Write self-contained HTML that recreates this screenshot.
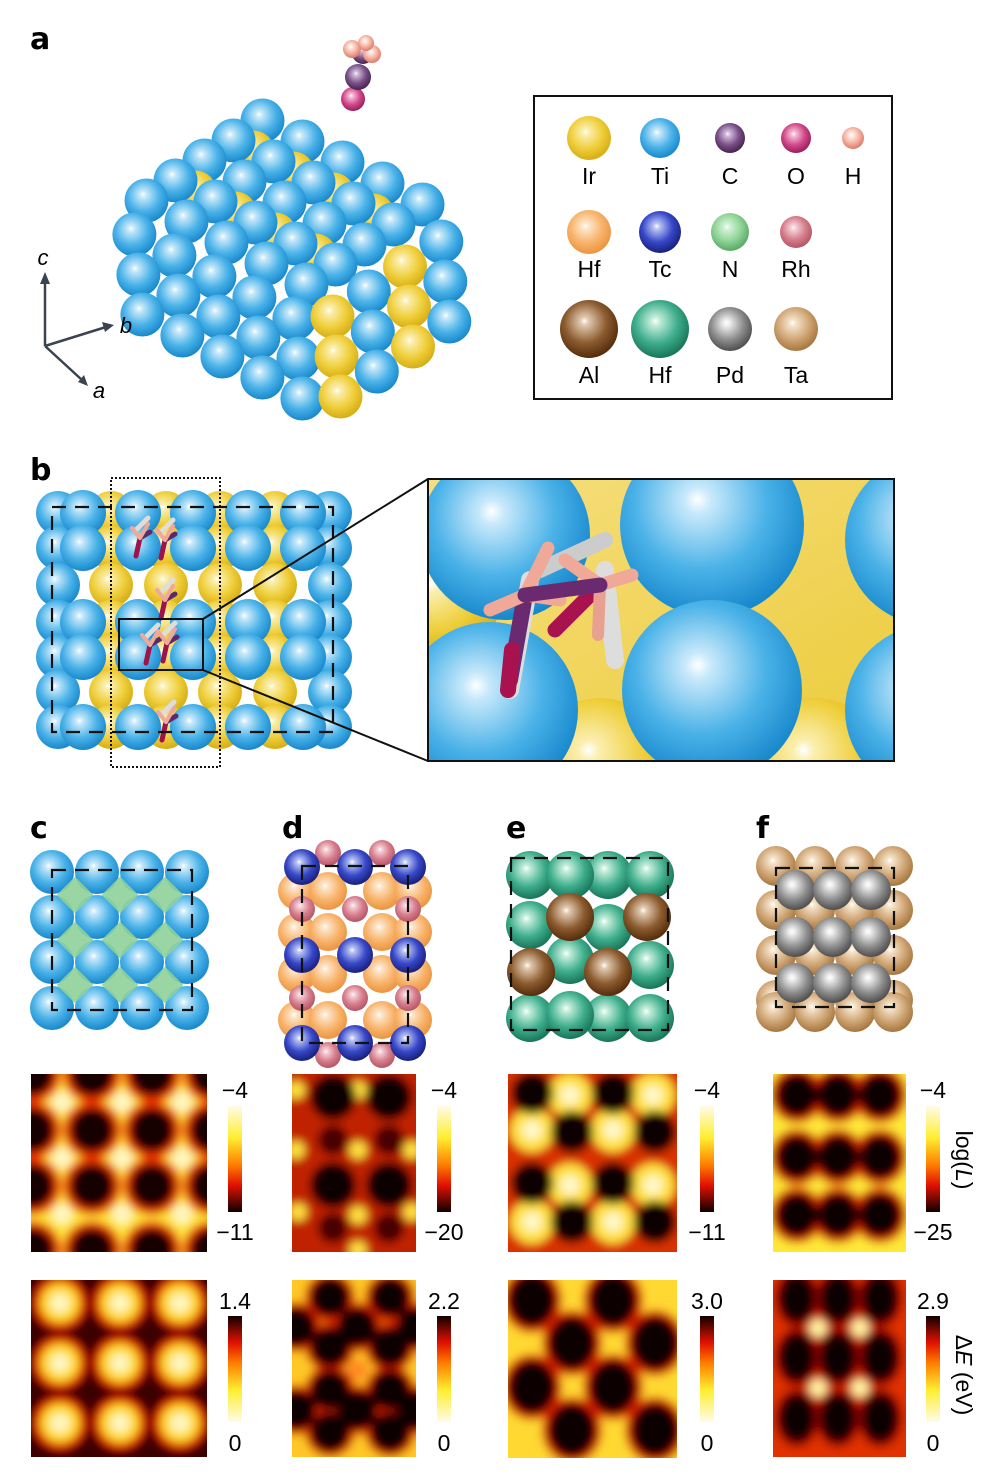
<!DOCTYPE html>
<html><head><meta charset="utf-8"><style>
html,body{margin:0;padding:0;background:#fff;}
svg text{font-family:"Liberation Sans",sans-serif;}
</style></head><body>
<svg id="s" width="1002" height="1472" viewBox="0 0 1002 1472" xmlns="http://www.w3.org/2000/svg">
<defs id="d">
<filter id="bl" x="-20%" y="-20%" width="140%" height="140%"><feGaussianBlur stdDeviation="4.5"/></filter>
<linearGradient id="cbUp" x1="0" y1="0" x2="0" y2="1"><stop offset="0" stop-color="#fffbe8"/><stop offset="0.3" stop-color="#ffee30"/><stop offset="0.55" stop-color="#ff8000"/><stop offset="0.75" stop-color="#e01000"/><stop offset="1" stop-color="#100000"/></linearGradient>
<linearGradient id="cbDn" x1="0" y1="1" x2="0" y2="0"><stop offset="0" stop-color="#fffbe8"/><stop offset="0.3" stop-color="#ffee30"/><stop offset="0.55" stop-color="#ff8000"/><stop offset="0.75" stop-color="#e01000"/><stop offset="1" stop-color="#100000"/></linearGradient>
<linearGradient id="ybg" x1="0" y1="0" x2="1" y2="1"><stop offset="0" stop-color="#f6df80"/><stop offset="1" stop-color="#eccb3a"/></linearGradient>
</defs>
<g id="g"></g>
</svg>
<script>
var defs=document.getElementById('d'),G=document.getElementById('g'),out='',dd='';
function grad(id,a,b,c){dd+='<radialGradient id="'+id+'" cx="0.45" cy="0.4" r="0.6" fx="0.42" fy="0.36"><stop offset="0" stop-color="#ffffff"/><stop offset="0.12" stop-color="'+a+'"/><stop offset="0.6" stop-color="'+b+'"/><stop offset="1" stop-color="'+c+'"/></radialGradient>';}
grad('bl_','#c8e9fb','#4ab2e8','#1888cc');
grad('ye','#fbefb0','#efcf3c','#d6ad14');
grad('gr','#d5f2d8','#8ed496','#5aa868');
grad('or','#fde6cc','#f8b46c','#eb9440');
grad('tc','#b8c4f4','#3848c8','#18207c');
grad('rh','#f5d3d8','#d67d8c','#b45666');
grad('al','#e0c8ae','#8c5c30','#552c0c');
grad('te','#c4eedc','#3fae8c','#187558');
grad('pd','#eeeeee','#8f8f8f','#4e4e4e');
grad('ta','#f6e4cc','#d0a676','#a6763e');
grad('cc','#d4bedc','#7a5088','#45254f');
grad('oo','#f6c0d8','#d0488a','#9c1e5c');
grad('hh','#fff0e8','#f4b0a0','#dc7a68');
defs.insertAdjacentHTML('beforeend',dd);
function S(x,y,r,g){out+='<circle cx="'+x+'" cy="'+y+'" r="'+r+'" fill="url(#'+g+')"/>';}
function T(x,y,t,sz,extra){out+='<text x="'+x+'" y="'+y+'" font-size="'+(sz||22)+'" '+(extra||'text-anchor="middle"')+'>'+t+'</text>';}
[['a',30,49],['b',30,480],['c',30,838],['d',282,838],['e',506,838],['f',756,838]].forEach(function(l){T(l[1],l[2],l[0],30,'font-weight="bold" style="font-family:\'DejaVu Sans\',sans-serif"');});
// ---- panel a cluster
var L=[112,200],X=[200,105],Y=[10,100],Z=[-145,100],n=5;
var list=[];
for(var i=0;i<n;i++)for(var j=0;j<n;j++){var u=(i+0.5)/n,v=(j+0.5)/n;
 var x=L[0]+u*X[0]-v*Z[0],y=L[1]+u*X[1]-v*Z[1];
 if(j%2==1&&i<n-1){list.push([x+20,y+11,21,'ye',y-10]);}
 list.push([x,y,22,'bl_',y]);}
for(var i=0;i<n;i++)for(var k=0;k<3;k++){var u=(i+0.5)/n,w=(k+0.6)/3;
 var x=L[0]+u*X[0]+w*Y[0]*1.2,y=L[1]+u*X[1]+w*Y[1]*1.2;list.push([x,y,22,'bl_',y+200]);}
for(var i=0;i<4;i++)for(var k=0;k<3;k++){var s=(i+0.5)/4,w=(k+0.6)/3;
 var x=312-s*Z[0]+w*Y[0]*1.2,y=305-s*Z[1]+w*Y[1]*1.2;list.push([x,y,22,(i%2==0)?'ye':'bl_',y+300-i]);}
list.sort(function(a,b){return a[4]-b[4];});
list.forEach(function(p){S(p[0].toFixed(1),p[1].toFixed(1),p[2],p[3]);});
S(353,99,12,'oo');S(358,77,13,'cc');S(363,53,11,'cc');S(352,49,9,'hh');S(372,54,9,'hh');S(366,43,8,'hh');
out+='<g stroke="#3a4450" stroke-width="2.5" fill="#3a4450"><line x1="45" y1="346" x2="45" y2="280"/><line x1="45" y1="346" x2="106" y2="327"/><line x1="45" y1="346" x2="82" y2="380"/></g>';
out+='<polygon points="45,272 40,284 50,284" fill="#3a4450"/><polygon points="114,325 102,322 105,332" fill="#3a4450"/><polygon points="88,386 78,382 84,375" fill="#3a4450"/>';
T(43,265,'c',22,'text-anchor="middle" font-style="italic"');T(126,333,'b',22,'text-anchor="middle" font-style="italic"');T(99,398,'a',22,'text-anchor="middle" font-style="italic"');
out+='<rect x="534" y="96" width="358" height="303" fill="none" stroke="#111" stroke-width="2"/>';
[[589,138,22,'ye'],[660,138,20,'bl_'],[730,138,15,'cc'],[796,138,15,'oo'],[853,138,11,'hh'],
 [589,232,22,'or'],[660,232,21,'tc'],[730,232,19,'gr'],[796,232,16,'rh'],
 [589,329,29,'al'],[660,329,29,'te'],[730,329,22,'pd'],[796,329,22,'ta']].forEach(function(e){S(e[0],e[1],e[2],e[3]);});
[[589,184,'Ir'],[660,184,'Ti'],[730,184,'C'],[796,184,'O'],[853,184,'H'],[589,277,'Hf'],[660,277,'Tc'],[730,277,'N'],[796,277,'Rh'],[589,383,'Al'],[660,383,'Hf'],[730,383,'Pd'],[796,383,'Ta']].forEach(function(t){T(t[0],t[1],t[2],23);});
// ---- panel b grid
var rows=[513,548,585,622,657,692,727],ycols=[111,166,220,275],bcols=[83,138,193,248,303];
rows.forEach(function(y){ycols.forEach(function(x){S(x,y,22,'ye');});});
rows.forEach(function(y,ri){S(58,y,22,'bl_');S(330,y,22,'bl_');});
rows.forEach(function(y,ri){if(ri!=2&&ri!=5)bcols.forEach(function(x){S(x,y,23,'bl_');});});
function mol(x,y,sc){out+='<g stroke-linecap="round" transform="translate('+x+','+y+') scale('+sc+')"><line x1="-4" y1="-8" x2="8" y2="-20" stroke="#ddd" stroke-width="5"/><line x1="0" y1="0" x2="-4" y2="18" stroke="#a0124a" stroke-width="5"/><line x1="0" y1="0" x2="10" y2="-6" stroke="#5a2a6a" stroke-width="5"/><line x1="0" y1="0" x2="-8" y2="-10" stroke="#f0a898" stroke-width="4"/><line x1="0" y1="0" x2="8" y2="-14" stroke="#f0a898" stroke-width="4"/></g>';}
mol(140,538,1);mol(165,540,1);mol(165,600,1);mol(150,645,1);mol(167,643,1);mol(166,722,1);
out+='<rect x="52" y="507" width="281" height="225" fill="none" stroke="#111" stroke-width="2.2" stroke-dasharray="14,9"/>';
out+='<rect x="111" y="478" width="109" height="289" fill="none" stroke="#111" stroke-width="2" stroke-dasharray="2,2"/>';
out+='<rect x="119" y="619" width="84" height="51" fill="none" stroke="#111" stroke-width="2"/>';
out+='<line x1="203" y1="619" x2="428" y2="479" stroke="#111" stroke-width="2"/><line x1="203" y1="670" x2="428" y2="761" stroke="#111" stroke-width="2"/>';
out+='<svg x="428" y="479" width="466" height="282" overflow="hidden"><rect width="466" height="282" fill="url(#ybg)"/>';
out+='<g transform="translate(-428,-479)">';
S(600,770,72,'ye');S(815,770,72,'ye');S(440,600,60,'ye');
S(505,535,85,'bl_');S(712,525,92,'bl_');S(930,540,85,'bl_');S(712,690,90,'bl_');S(490,710,88,'bl_');S(930,710,85,'bl_');
out+='<g stroke-linecap="round"><line x1="530" y1="580" x2="510" y2="690" stroke="#ddd" stroke-width="18"/><line x1="605" y1="570" x2="615" y2="660" stroke="#ddd" stroke-width="18"/><line x1="540" y1="570" x2="605" y2="540" stroke="#ccc" stroke-width="16"/>';
out+='<line x1="525" y1="595" x2="510" y2="680" stroke="#6a2a70" stroke-width="16"/><line x1="512" y1="650" x2="508" y2="690" stroke="#a8124e" stroke-width="16"/><line x1="600" y1="585" x2="555" y2="630" stroke="#a8124e" stroke-width="15"/><line x1="600" y1="585" x2="598" y2="635" stroke="#e8a090" stroke-width="12"/>';
out+='<line x1="525" y1="595" x2="490" y2="610" stroke="#f0a898" stroke-width="13"/><line x1="525" y1="595" x2="548" y2="548" stroke="#f0a898" stroke-width="13"/><line x1="525" y1="595" x2="560" y2="600" stroke="#f0a898" stroke-width="13"/>';
out+='<line x1="600" y1="585" x2="565" y2="560" stroke="#f0a898" stroke-width="13"/><line x1="600" y1="585" x2="632" y2="575" stroke="#f0a898" stroke-width="13"/><line x1="525" y1="595" x2="600" y2="585" stroke="#6a2a70" stroke-width="15"/></g>';
out+='</g></svg><rect x="428" y="479" width="466" height="282" fill="none" stroke="#111" stroke-width="2"/>';
// ---- c
[872,917,962,1008].forEach(function(y){[52,97,142,187].forEach(function(x){S(x,y,22,'bl_');});});
[[75,895],[120,895],[165,895],[75,940],[120,940],[165,940],[75,985],[120,985],[165,985]].forEach(function(p){out+='<rect x="'+(p[0]-13)+'" y="'+(p[1]-13)+'" width="26" height="26" transform="rotate(45 '+p[0]+' '+p[1]+')" fill="#8fd09a" opacity="0.9"/>';});
out+='<rect x="52" y="870" width="140" height="140" fill="none" stroke="#111" stroke-width="2.2" stroke-dasharray="14,9"/>';
// ---- d
[853,1055].forEach(function(y){[328,382].forEach(function(x){S(x,y,13,'rh');});});
[891,932,974,1020].forEach(function(y){[297,328,382,413].forEach(function(x){S(x,y,19,'or');});});
[909,998].forEach(function(y){[302,355,408].forEach(function(x){S(x,y,13,'rh');});});
[867,955,1043].forEach(function(y){[302,355,408].forEach(function(x){S(x,y,18,'tc');});});
out+='<rect x="302" y="866" width="106" height="177" fill="none" stroke="#111" stroke-width="2.2" stroke-dasharray="14,9"/>';
// ---- e
[[530,875],[608,875],[650,875],[570,875],[530,925],[608,928],[650,965],[570,960],[530,1018],[608,1018],[650,1018],[570,1015]].forEach(function(p){S(p[0],p[1],24,'te');});
[[570,917,24],[647,917,24],[531,972,24],[608,972,24]].forEach(function(p){S(p[0],p[1],p[2],'al');});
out+='<rect x="511" y="858" width="157" height="172" fill="none" stroke="#111" stroke-width="2.2" stroke-dasharray="14,9"/>';
// ---- f
[866,910,955,1000,1012].forEach(function(y){[776,815,855,893].forEach(function(x){S(x,y,20,'ta');});});
[890,937,983].forEach(function(y){[795,833,871].forEach(function(x){S(x,y,20,'pd');});});
out+='<rect x="776" y="868" width="118" height="139" fill="none" stroke="#111" stroke-width="2.2" stroke-dasharray="14,9"/>';
// ---- heatmaps
function heat(x,y,w,h,base,layers){out+='<svg x="'+x+'" y="'+y+'" width="'+w+'" height="'+h+'" overflow="hidden"><g filter="url(#bl)" transform="translate('+(-x)+','+(-y)+')"><rect x="'+(x-30)+'" y="'+(y-30)+'" width="'+(w+60)+'" height="'+(h+60)+'" fill="'+base+'"/>';
 layers.forEach(function(L){L[0].forEach(function(p){out+='<ellipse cx="'+p[0]+'" cy="'+p[1]+'" rx="'+L[1]+'" ry="'+(L[3]||L[1])+'" fill="'+L[2]+'"/>';});});out+='</g></svg>';}
function grid(xs,ys){var r=[];ys.forEach(function(y){xs.forEach(function(x){r.push([x,y]);});});return r;}
var cd=grid([32,92,152,212],[1074,1130,1186,1250]);
heat(31,1074,176,178,'#ffe43a',[[grid([62,122,182],[1102,1158,1214]),10,'#fff6c0'],[cd,29,'#e83000'],[cd,22,'#120000']]);
var cy=grid([60,120,180],[1303,1363,1423]);
heat(31,1280,176,177,'#3a0000',[[cy,27,'#e02000'],[cy,20,'#ffd828'],[cy,10,'#fff6c0']]);
var dk=[[333,1097],[389,1097],[333,1185],[389,1185]],dm=[[333,1140],[389,1140],[333,1228],[389,1228]];
heat(292,1074,124,178,'#c02000',[[[[358,1090],[296,1150],[358,1150],[412,1150],[298,1212],[358,1215],[412,1212],[358,1250],[296,1090]],9,'#ffe040'],[dk,23,'#100000'],[dm,15,'#4a0000']]);
var db=[[330,1297],[390,1297],[296,1327],[357,1327],[416,1327],[330,1347],[390,1347],[330,1390],[390,1390],[296,1410],[357,1410],[416,1410],[330,1432],[390,1432]];
heat(292,1280,124,177,'#ffc828',[[db,25,'#d82000'],[db,20,'#100000'],[[[358,1370]],10,'#ff8a20']]);
var ek=[[532,1093],[613,1093],[572,1132],[655,1132],[532,1183],[613,1183],[572,1222],[655,1222]];
var ey=[[570,1095],[653,1095],[532,1130],[613,1130],[570,1185],[653,1185],[532,1222],[613,1222]];
heat(508,1074,169,178,'#d83000',[[ey,22,'#ffe040'],[ey,10,'#fff8c8'],[ek,21,'#100000']]);
var eb=[[532,1300],[613,1300],[572,1343],[655,1343],[532,1387],[613,1387],[572,1430],[655,1430]];
heat(508,1280,169,178,'#ffd830',[[eb,30,'#d82000',33],[eb,24,'#100000',27]]);
var fk=grid([797,838,880],[1095,1157,1215]);
heat(773,1074,133,178,'#ffe838',[[fk,27,'#d82000',28],[fk,21,'#100000',22]]);
var fb=grid([797,838,880],[1298,1357,1418]);
heat(773,1280,133,177,'#e03000',[[grid([818,860],[1328,1388]),9,'#fff0a0'],[fb,22,'#900000',29],[fb,18,'#100000',24]]);
[[228,'−4','−11','1.4'],[437,'−4','−20','2.2'],[700,'−4','−11','3.0'],[926,'−4','−25','2.9']].forEach(function(c){
 var x=c[0];out+='<rect x="'+x+'" y="1106" width="14" height="106" fill="url(#cbUp)"/><rect x="'+x+'" y="1316" width="14" height="106" fill="url(#cbDn)"/>';
 T(x+7,1098,c[1],23);T(x+7,1240,c[2],23);T(x+7,1309,c[3],23);T(x+7,1451,'0',23);});
out+='<text x="956" y="1160" font-size="23" text-anchor="middle" transform="rotate(90 956 1160)">log(<tspan font-style="italic">L</tspan>)</text>';
out+='<text x="956" y="1375" font-size="23" text-anchor="middle" transform="rotate(90 956 1375)">Δ<tspan font-style="italic">E</tspan> (eV)</text>';
G.innerHTML=out;
</script>
</body></html>
